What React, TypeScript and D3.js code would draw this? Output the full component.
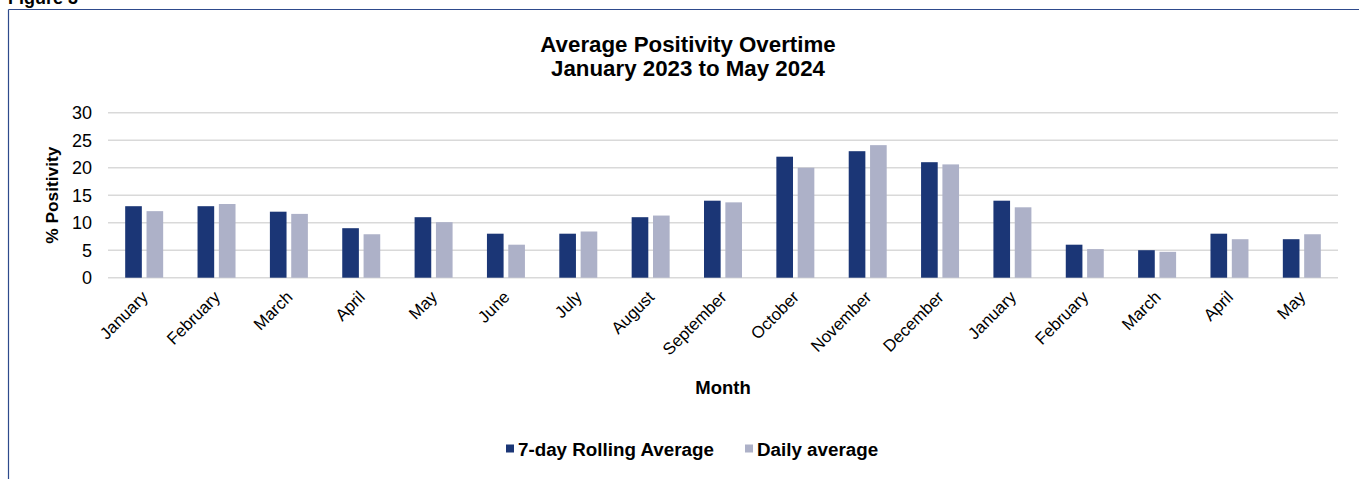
import React from "react";
import * as d3 from "d3";

const months = ["January","February","March","April","May","June","July","August","September","October","November","December","January","February","March","April","May"];
const rolling7 = [13,13,12,9,11,8,8,11,14,22,23,21,14,6,5,8,7];
const daily = [12.1,13.4,11.6,7.9,10.1,6,8.4,11.3,13.7,20,24.1,20.6,12.8,5.2,4.7,7,7.9];
const seriesNames = ["7-day Rolling Average","Daily average"];
const seriesColors = ["#1B3676","#ADB1C8"];
const yTicks = [0,5,10,15,20,25,30];

const W = 1359, H = 479;
const left = 108, right = 1338, top = 112.7, bottom = 277.7;
const FONT = "Arial, 'Liberation Sans', sans-serif";

export default function App() {
  const idx = months.map((_, i) => i);
  const x = d3.scaleBand<number>().domain(idx).range([left, right]).paddingInner(0.475).paddingOuter(0.2375);
  const inner = d3.scaleBand<number>().domain([0, 1]).range([0, x.bandwidth()]).paddingInner(0.22);
  const y = d3.scaleLinear().domain([0, 30]).range([bottom, top]);
  const data = [rolling7, daily];
  return (
    <svg width={W} height={H} style={{ position: "absolute", left: 0, top: 0, background: "#fff" }} fontFamily={FONT}>
      <rect x={0} y={0} width={W} height={H} fill="#fff" />
      <text x={8} y={4} fontSize={18} fontWeight="bold" fill="#000">Figure 3</text>
      <line x1={8.5} y1={9.5} x2={W} y2={9.5} stroke="#2E4A8C" strokeWidth={1.2} />
      <line x1={8.5} y1={9.5} x2={8.5} y2={H} stroke="#2E4A8C" strokeWidth={1.2} />
      <text x={688} y={52} textAnchor="middle" fontSize={22.3} fontWeight="bold" fill="#000">Average Positivity Overtime</text>
      <text x={688} y={75.5} textAnchor="middle" fontSize={22.3} fontWeight="bold" fill="#000">January 2023 to May 2024</text>
      {yTicks.map(t => (
        <g key={t}>
          <line x1={left} x2={right} y1={y(t)} y2={y(t)} stroke="#D9D9D9" strokeWidth={1.5} />
          <text x={92} y={y(t)} dy="0.35em" textAnchor="end" fontSize={18} fill="#000">{t}</text>
        </g>
      ))}
      {data.map((s, si) => s.map((v, i) => (
        <rect key={si + "-" + i} x={(x(i) as number) + (inner(si) as number)} y={y(v)} width={inner.bandwidth()} height={y(0) - y(v)} fill={seriesColors[si]} />
      )))}
      {months.map((m, i) => {
        const cx = (x(i) as number) + x.bandwidth() / 2;
        return (
          <text key={i} transform={`translate(${cx + 0.5},${294}) rotate(-45)`} textAnchor="end" dy="0.35em" fontSize={16.8} fill="#000">{m}</text>
        );
      })}
      <text transform={`translate(58,${(top + bottom) / 2}) rotate(-90)`} textAnchor="middle" fontSize={17.3} fontWeight="bold" fill="#000">% Positivity</text>
      <text x={(left + right) / 2} y={394} textAnchor="middle" fontSize={18.5} fontWeight="bold" fill="#000">Month</text>
      {seriesNames.map((n, si) => {
        const lx = [506, 745][si];
        return (
          <g key={n}>
            <rect x={lx} y={444.5} width={8} height={8} fill={seriesColors[si]} />
            <text x={lx + 12} y={455.5} fontSize={18.8} fontWeight="bold" fill="#000">{n}</text>
          </g>
        );
      })}
    </svg>
  );
}
